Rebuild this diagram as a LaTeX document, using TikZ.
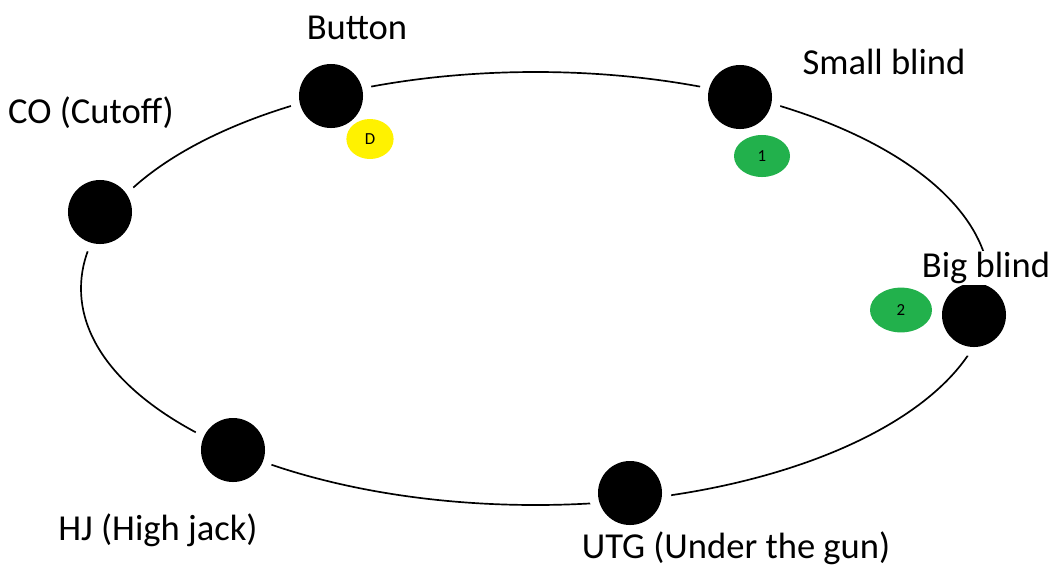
\documentclass[tikz,border=0pt]{standalone}
\usepackage{fontspec}
\setmainfont{Carlito}
\usetikzlibrary{shapes.geometric}
\definecolor{chipyellow}{RGB}{255,242,0}
\definecolor{chipgreen}{RGB}{34,177,76}
\begin{document}
\begin{tikzpicture}[
        x                       = 0.025cm,
        y                       = -0.025cm,
        seat/.style             = {circle, fill=black, minimum size=1.6cm, inner sep=0pt,
                                   preaction={draw=white, line width=13pt}},
        chip/.style             = {ellipse, inner sep=0pt, font=\fontsize{12}{14}\selectfont},
        seatname/.style         = {font=\fontsize{26}{30}\selectfont, inner sep=1pt},
        %table line
        table/.style            = {draw, line width=1.2pt}
      ]
        \useasboundingbox (0,0) rectangle (1057,567);
        \draw[table] (535.5,288.5) ellipse [x radius=454.5, y radius=216.5];

        % seats
        \node[seat] (btn) at (331,96) {};
        \node[seat] (sb)  at (740,97) {};
        \node[seat] (bb)  at (974,315) {};
        \node[seat] (utg) at (630,493) {};
        \node[seat] (hj)  at (233,450) {};
        \node[seat] (co)  at (100,212) {};

        % chips
        \node[chip, fill=chipyellow, minimum width=1.18cm, minimum height=1cm] (dealer) at (370,139) {D};
        \node[chip, fill=chipgreen, minimum width=1.4cm, minimum height=1.05cm] (sbchip) at (762,156) {1};
        \node[chip, fill=chipgreen, minimum width=1.55cm, minimum height=1.12cm] (bbchip) at (901,310) {2};

        % names
        \node[seatname] (btnname) at (357,28)  {Button};
        \node[seatname] (sbname)  at (884,62)  {Small blind};
        \node[seatname, fill=white] (bbname) at (986,268) {Big blind};
        \node[seatname] (utgname) at (736,548) {UTG (Under the gun)};
        \node[seatname] (hjname)  at (158,530) {HJ (High jack)};
        \node[seatname] (coname)  at (91,113)  {CO (Cutoff)};
    \end{tikzpicture}
\end{document}
